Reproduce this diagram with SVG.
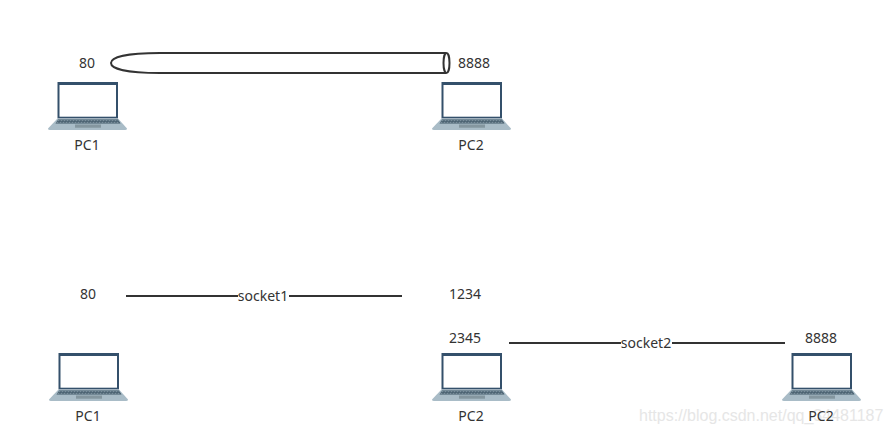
<svg xmlns="http://www.w3.org/2000/svg" width="892" height="433" viewBox="0 0 892 433">
<style>
text{font-family:"Noto Sans","Open Sans","Liberation Sans",sans-serif;font-size:14px;fill:#333;text-anchor:middle}
text.w{font-family:"Liberation Sans",Arial,sans-serif;font-size:16px;fill:#e6e6e6;text-anchor:start}
.c{fill:none;stroke:#333;stroke-width:2}
</style>
<defs>
<symbol id="laptop" width="80" height="50" viewBox="0 0 80 50" overflow="visible">
<path d="M9.500 0H70V36.500H9.500Z" fill="#34506b"/>
<rect x="11.500" y="3" width="56.500" height="31.700" fill="#fff"/>
<path d="M9.500 36.500H70L79 46.500Q79 48 77 48H2Q0 48 0 46.500Z" fill="#a9bcc7"/>
<path d="M10 37.500H70L72.500 41.500H7.500Z" fill="#3f5666"/>
<path d="M9.500 38.700H70.500M8.500 40.300H71.500" stroke="#a9bcc7" stroke-width=".7" stroke-dasharray="2 1" fill="none"/>
<rect x="27" y="42.500" width="26" height="3.200" fill="#84969f"/>
</symbol>
</defs>
<text class="w" x="639" y="421">https://blog.csdn.net/qq_34481187</text>
<g id="connectors">
<path class="c" d="M446 53H160C124 53 111 58 111 63C111 68 124 73 160 73H446"/>
<ellipse class="c" cx="446.500" cy="63" rx="3" ry="10"/>
<path class="c" d="M126 296H238M289 296H402"/>
<text x="263" y="301">socket1</text>
<path class="c" d="M509 343H621M672 343H785"/>
<text x="646" y="348">socket2</text>
</g>
<g id="pc1-top"><use href="#laptop" x="48" y="82"/><text x="87" y="150">PC1</text><text x="87" y="68">80</text></g>
<g id="pc2-top"><use href="#laptop" x="432" y="82"/><text x="471" y="150">PC2</text><text x="474" y="68">8888</text></g>
<g id="pc1-bottom"><use href="#laptop" x="49" y="353"/><text x="88" y="421">PC1</text><text x="88" y="299">80</text></g>
<g id="pc2-bottom"><use href="#laptop" x="432" y="353"/><text x="471" y="421">PC2</text><text x="465" y="299">1234</text><text x="465" y="343">2345</text></g>
<g id="pc2-right"><use href="#laptop" x="782" y="353"/><text x="821" y="421">PC2</text><text x="821" y="343">8888</text></g>
</svg>
